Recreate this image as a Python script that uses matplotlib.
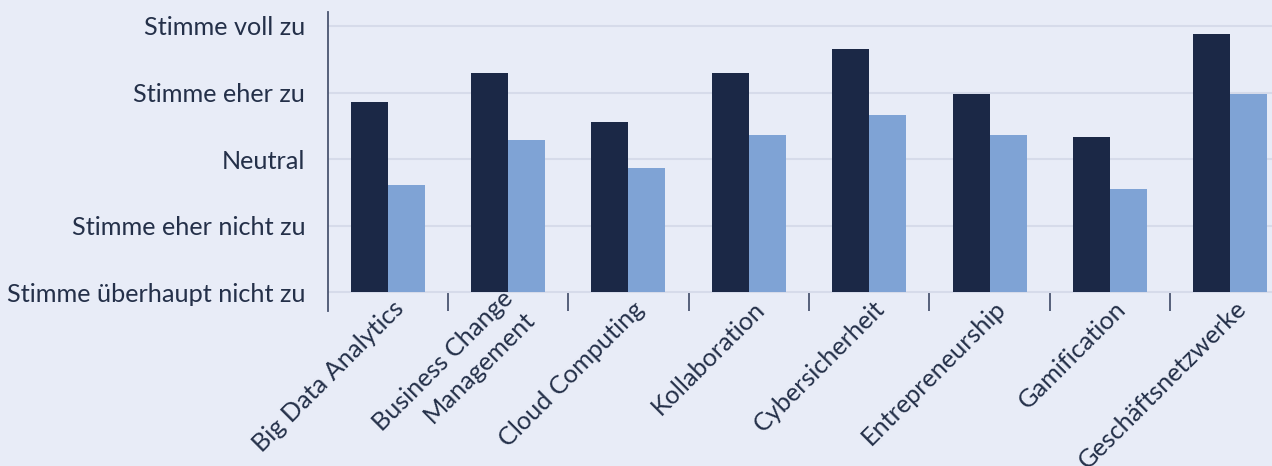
import matplotlib
matplotlib.use("Agg")
import matplotlib.pyplot as plt
import matplotlib.transforms as mtransforms
import numpy as np

# Zustimmungsskala (1 = überhaupt nicht, 5 = voll)
scale_labels = ["Stimme überhaupt nicht zu", "Stimme eher nicht zu", "Neutral",
                "Stimme eher zu", "Stimme voll zu"]
topics = ["Big Data Analytics", "Business Change\nManagement", "Cloud Computing",
          "Kollaboration", "Cybersicherheit", "Entrepreneurship", "Gamification",
          "Geschäftsnetzwerke"]
series_dark = [3.86, 4.30, 3.56, 4.29, 4.66, 3.98, 3.33, 4.88]
series_light = [2.61, 3.29, 2.86, 3.37, 3.67, 3.37, 2.55, 3.98]

bg = "#E8ECF7"
dark = "#1B2846"
light = "#7FA3D5"
text_col = "#243049"

plt.rcParams["font.family"] = ["Lato", "DejaVu Sans"]

fig = plt.figure(figsize=(12.72, 4.66), dpi=100)
fig.patch.set_facecolor(bg)
# axes run past the right edge, like the original layout
ax = fig.add_axes([327.5 / 1272, 1 - 311 / 466, 963 / 1272, 299 / 466])
ax.set_facecolor(bg)

x = np.arange(len(topics))
w = 0.307
ax.bar(x - w / 2, np.array(series_dark) - 1, w, bottom=1, color=dark, zorder=3)
ax.bar(x + w / 2, np.array(series_light) - 1, w, bottom=1, color=light, zorder=3)

ax.set_xlim(-0.5, 7.5)
ax.set_ylim(0.72, 5.21)

ax.set_yticks([1, 2, 3, 4, 5])
ax.set_yticklabels(scale_labels, fontsize=18.2, color=text_col)
ax.tick_params(axis="y", length=0, pad=16)
ax.grid(axis="y", color="#D6DBEA", linewidth=1.5, zorder=0)
ax.set_axisbelow(True)

for s in ["top", "right", "bottom"]:
    ax.spines[s].set_visible(False)
ax.spines["left"].set_color("#4A5570")
ax.spines["left"].set_linewidth(1.3)

# separators between categories
ax.set_xticks(x[:-1] + 0.5, minor=True)
ax.tick_params(axis="x", which="minor", direction="in", length=13, width=1.3,
               color="#4A5570")
ax.set_xticks(x)
ax.set_xticklabels(topics, rotation=45, ha="right", va="center",
                   rotation_mode="anchor", fontsize=18.2, color=text_col,
                   linespacing=1.35)
ax.tick_params(axis="x", which="major", length=0, pad=0)
offset = mtransforms.ScaledTranslation(12 / 100, 6 / 100, fig.dpi_scale_trans)
for lbl in ax.get_xticklabels():
    lbl.set_transform(lbl.get_transform() + offset)

fig.savefig("out.png", dpi=100, facecolor=bg)
